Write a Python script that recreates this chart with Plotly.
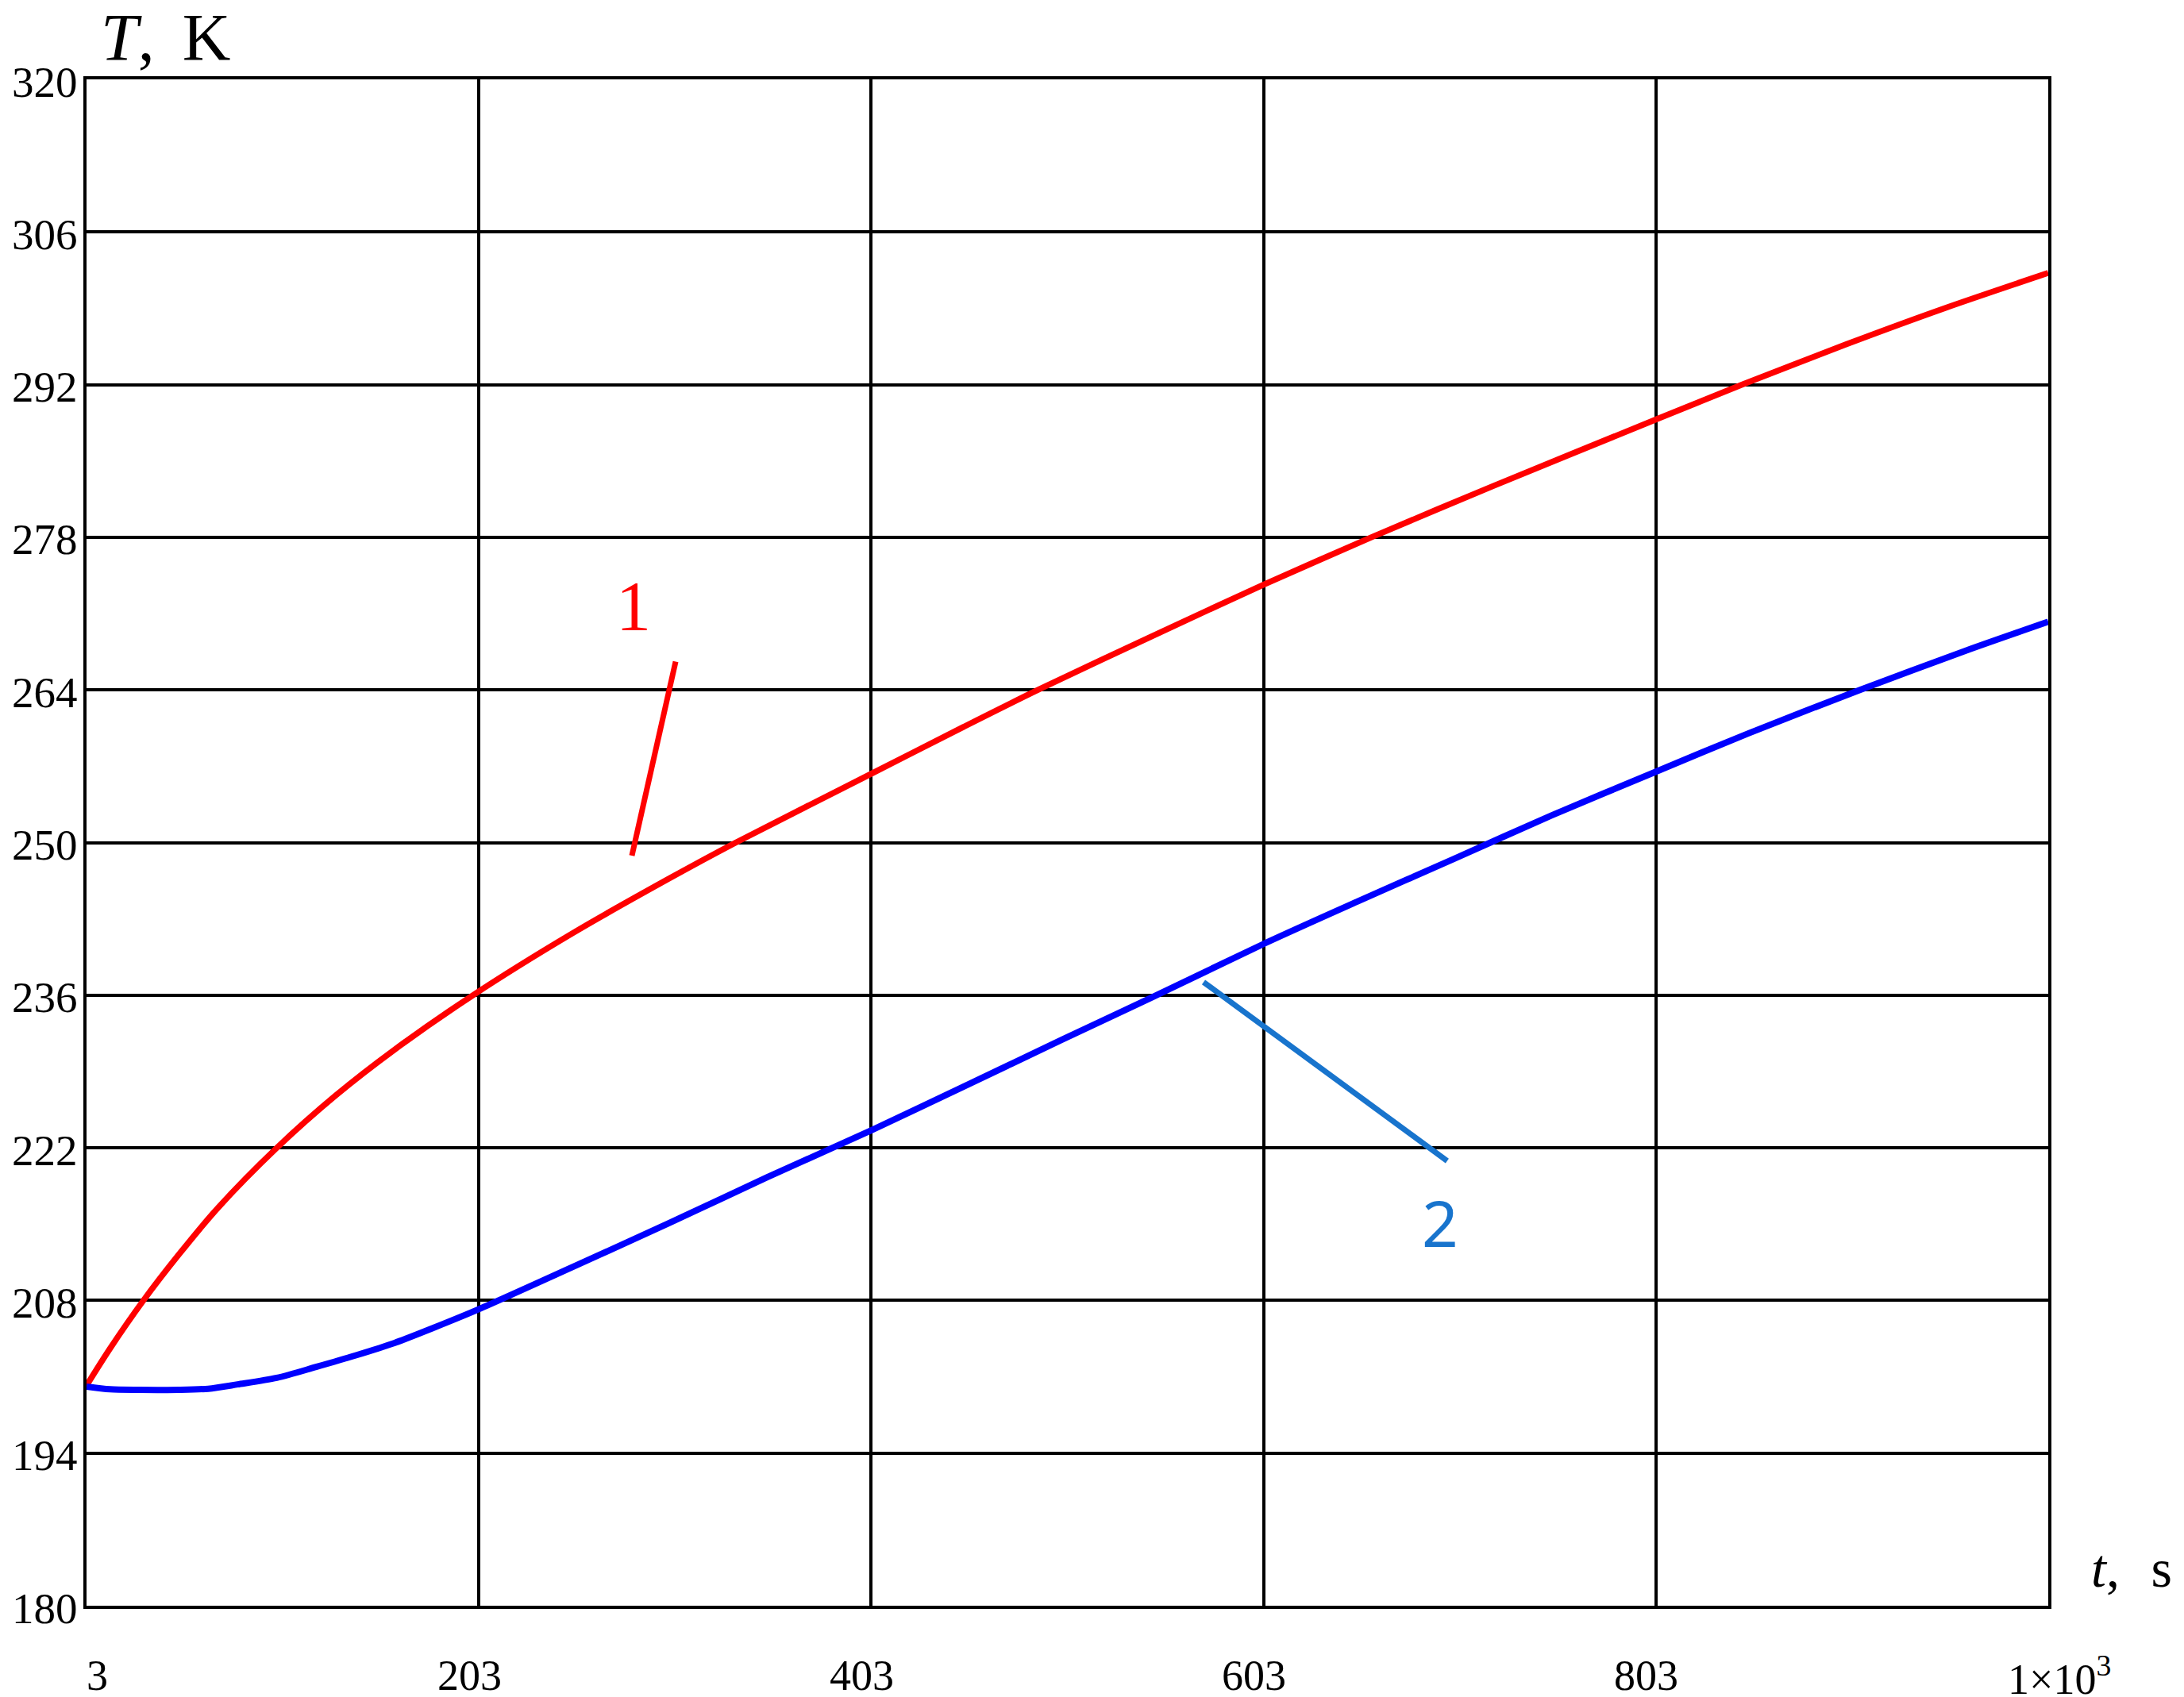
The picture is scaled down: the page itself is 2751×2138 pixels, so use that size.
import plotly.graph_objects as go

# ---- data ----
t_red = [3, 15, 32, 50, 70, 100, 130, 160, 200, 250, 300, 334, 403, 450, 488, 550,
         603, 658, 720, 803, 847, 900, 950, 1003]
T_red = [200.2, 203.6, 208.0, 212.2, 216.5, 222.0, 226.8, 231.0, 236.0, 241.6, 246.7,
         250.0, 256.3, 260.6, 264.0, 269.25, 273.65, 278.0, 282.7, 288.8, 292.0, 295.7,
         299.0, 302.25]

t_blue = [3, 15, 30, 50, 65, 80, 100, 120, 140, 160, 180, 203, 250, 300, 350, 403, 450,
          500, 545, 603, 651, 700, 750, 803, 850, 907, 961, 1003]
T_blue = [200.1, 199.85, 199.8, 199.8, 199.9, 200.3, 200.9, 201.9, 202.95, 204.1, 205.5,
          207.2, 211.0, 215.1, 219.3, 223.6, 227.6, 231.9, 235.7, 240.7, 244.6, 248.5,
          252.5, 256.5, 260.0, 264.0, 267.6, 270.25]

x_ticks = [3, 203, 403, 603, 803, 1003]
x_ticktext = ["3", "203", "403", "603", "803", "1×10<sup>3</sup>"]
y_ticks = [180, 194, 208, 222, 236, 250, 264, 278, 292, 306, 320]
y_ticktext = [str(v) for v in y_ticks]

# curve labels and leader lines (data coordinates)
label1 = dict(text="1", x=281.8, y=271.7)
leader1 = dict(x0=303.3, y0=266.6, x1=281.0, y1=248.8)
label2 = dict(text="2", x=693.0, y=215.2)
leader2 = dict(x0=572.4, y0=237.2, x1=696.6, y1=220.8)

RED = "#ff0000"
BLUE = "#0000ff"
LABEL_BLUE = "#1874cd"
SERIF = "Liberation Serif, Times New Roman, serif"

W, H = 2751, 2138
OFF = 8  # page body margin offset
L, R, T, B = 109, 2580, 100, 2023  # plot area as seen on screen

fig = go.Figure()
fig.add_trace(go.Scatter(x=t_red, y=T_red, mode="lines",
                         line=dict(color=RED, width=7.5, shape="spline", smoothing=0.8),
                         showlegend=False, hoverinfo="skip"))
fig.add_trace(go.Scatter(x=t_blue, y=T_blue, mode="lines",
                         line=dict(color=BLUE, width=8, shape="spline", smoothing=0.8),
                         showlegend=False, hoverinfo="skip"))

fig.add_shape(type="line", xref="x", yref="y", **leader1, line=dict(color=RED, width=7))
fig.add_shape(type="line", xref="x", yref="y", **leader2, line=dict(color=LABEL_BLUE, width=7))

fig.add_annotation(text=label1["text"], x=label1["x"], y=label1["y"], xref="x", yref="y",
                   showarrow=False, font=dict(family=SERIF, size=88, color=RED))
fig.add_annotation(text=label2["text"], x=label2["x"], y=label2["y"], xref="x", yref="y",
                   showarrow=False, font=dict(family="Noto Sans, Open Sans, sans-serif",
                                              size=80, color=LABEL_BLUE))


def paper_xy(px, py):
    return (px - L) / (R - L), 1 - (py - T) / (B - T)


# axis titles
ax, ay = paper_xy(125, 48)
fig.add_annotation(text="<i>T</i>, \u2006K", x=ax, y=ay, xref="paper", yref="paper",
                   xanchor="left", yanchor="middle", showarrow=False,
                   font=dict(family=SERIF, size=84, color="black"))
ax, ay = paper_xy(2632, 1976)
fig.add_annotation(text="<i>t</i>,  \u200as", x=ax, y=ay, xref="paper", yref="paper",
                   xanchor="left", yanchor="middle", showarrow=False,
                   font=dict(family=SERIF, size=68, color="black"))

# x tick labels (Mathcad-style placement)
x_label_shift = [13, -12, -12, -12, -12, 14]
for v, txt, dx in zip(x_ticks, x_ticktext, x_label_shift):
    fig.add_annotation(text=txt, x=v, y=0, xref="x", yref="paper",
                       xanchor="center", yanchor="middle", xshift=dx, yshift=-88,
                       showarrow=False, font=dict(family=SERIF, size=54, color="black"))

# y tick labels
for v, txt in zip(y_ticks, y_ticktext):
    fig.add_annotation(text=txt, x=0, y=v, xref="paper", yref="y",
                       xanchor="right", yanchor="middle", xshift=-9, yshift=-3,
                       showarrow=False, font=dict(family=SERIF, size=55, color="black"))

fig.update_layout(
    width=W, height=H, autosize=False,
    margin=dict(l=L - OFF, r=W - R + OFF, t=T - OFF, b=H - B + OFF, pad=0),
    paper_bgcolor="white", plot_bgcolor="white",
    showlegend=False,
)

fig.update_xaxes(range=[3, 1003], tickvals=x_ticks, showticklabels=False,
                 showgrid=True, gridcolor="black", gridwidth=3.5,
                 showline=True, linecolor="black", linewidth=4, mirror=True,
                 zeroline=False, ticks="", automargin=False)
fig.update_yaxes(range=[180, 320], tickvals=y_ticks, showticklabels=False,
                 showgrid=True, gridcolor="black", gridwidth=3.5,
                 showline=True, linecolor="black", linewidth=4, mirror=True,
                 zeroline=False, ticks="", automargin=False)

fig.write_html("out.html", config={"displayModeBar": False})
